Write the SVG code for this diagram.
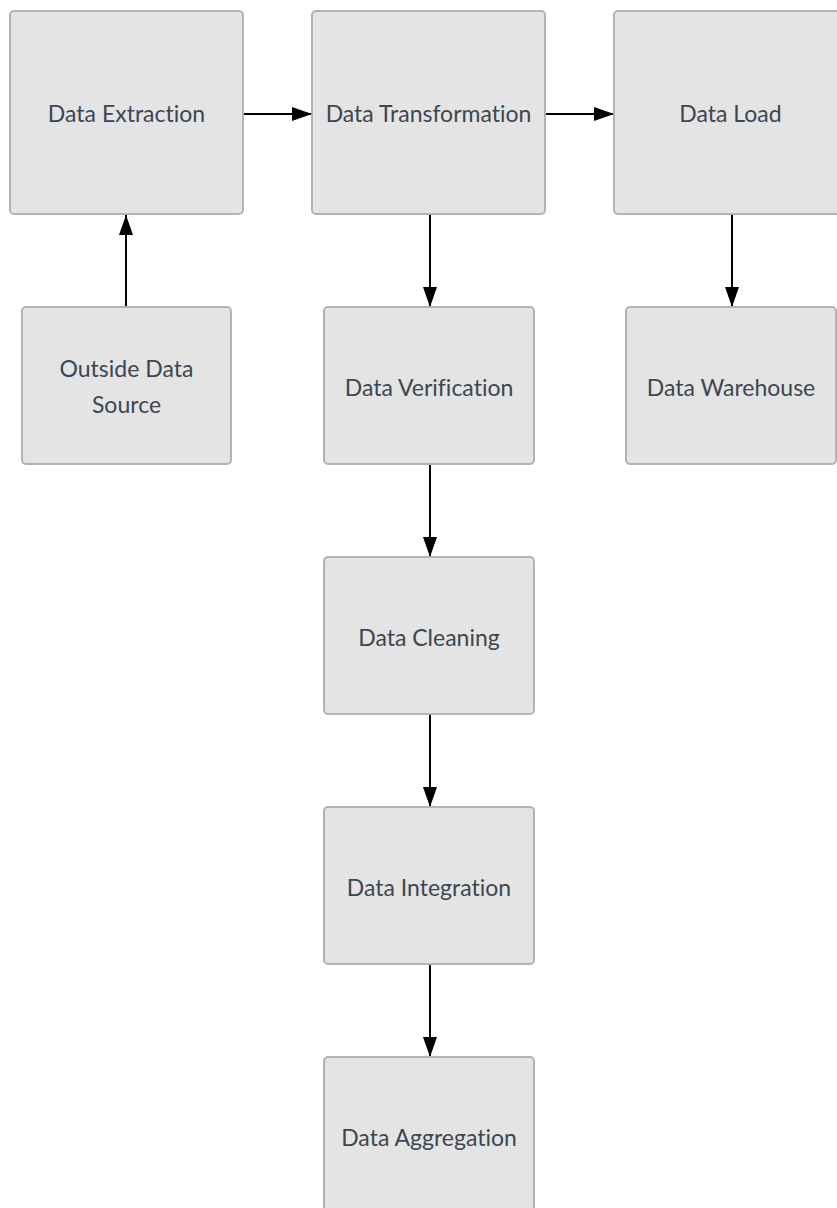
<svg xmlns="http://www.w3.org/2000/svg" width="837" height="1208" viewBox="0 0 837 1208">
  <defs>
    <style>
      .box { fill: #e4e4e4; stroke: #b3b3b3; stroke-width: 2; }
      .lbl { font-family: Lato, "Liberation Sans", sans-serif; font-size: 23px; fill: #3d4652; text-anchor: middle; font-variant-ligatures: none; }
      .edge { stroke: #000; stroke-width: 2; fill: none; marker-end: url(#arrow); }
    </style>
    <marker id="arrow" viewBox="0 0 20 14" refX="20" refY="7" markerWidth="20" markerHeight="14" markerUnits="userSpaceOnUse" orient="auto">
      <path d="M0,0 L20,7 L0,14 Z" fill="#000"/>
    </marker>
  </defs>
  <rect width="837" height="1208" fill="#fff"/>

  <g id="connectors">
    <path class="edge" d="M244,114 L312,114"/>
    <path class="edge" d="M546,114 L614,114"/>
    <path class="edge" d="M126,307 L126,215"/>
    <path class="edge" d="M430,215 L430,307"/>
    <path class="edge" d="M732,215 L732,307"/>
    <path class="edge" d="M430,465 L430,557"/>
    <path class="edge" d="M430,715 L430,807"/>
    <path class="edge" d="M430,965 L430,1057"/>
  </g>

  <g id="data-extraction">
    <rect class="box" x="10" y="11" width="233" height="203" rx="4"/>
    <text class="lbl" x="126.5" y="122">Data Extraction</text>
  </g>
  <g id="data-transformation">
    <rect class="box" x="312" y="11" width="233" height="203" rx="4"/>
    <text class="lbl" x="428.5" y="122">Data Transformation</text>
  </g>
  <g id="data-load">
    <rect class="box" x="614" y="11" width="233" height="203" rx="4"/>
    <text class="lbl" x="730.5" y="122">Data Load</text>
  </g>
  <g id="outside-data-source">
    <rect class="box" x="22" y="307" width="209" height="157" rx="4"/>
    <text class="lbl" x="126.5" y="377">Outside Data</text>
    <text class="lbl" x="126.5" y="413">Source</text>
  </g>
  <g id="data-verification">
    <rect class="box" x="324" y="307" width="210" height="157" rx="4"/>
    <text class="lbl" x="429" y="396">Data Verification</text>
  </g>
  <g id="data-warehouse">
    <rect class="box" x="626" y="307" width="210" height="157" rx="4"/>
    <text class="lbl" x="731" y="396">Data Warehouse</text>
  </g>
  <g id="data-cleaning">
    <rect class="box" x="324" y="557" width="210" height="157" rx="4"/>
    <text class="lbl" x="429" y="646">Data Cleaning</text>
  </g>
  <g id="data-integration">
    <rect class="box" x="324" y="807" width="210" height="157" rx="4"/>
    <text class="lbl" x="429" y="896">Data Integration</text>
  </g>
  <g id="data-aggregation">
    <rect class="box" x="324" y="1057" width="210" height="157" rx="4"/>
    <text class="lbl" x="429" y="1146">Data Aggregation</text>
  </g>
</svg>
